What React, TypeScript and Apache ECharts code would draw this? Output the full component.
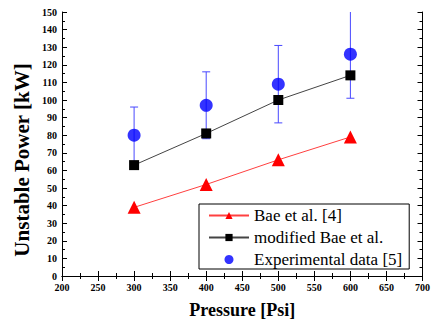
import React, { useEffect, useRef } from "react";
import * as echarts from "echarts";

const pressures = [300, 400, 500, 600];
const baeValues = [39, 52, 66, 79];
const modifiedValues = [63, 81, 100, 114];
const experimentalValues = [80, 97, 109, 126];
const experimentalErrors = [16, 19, 22, 25];

export default function App() {
  const ref = useRef<HTMLDivElement>(null);
  useEffect(() => {
    const chart = echarts.init(ref.current!, null, { renderer: "svg" });
    const serif = "'Liberation Serif', 'Times New Roman', serif";
    const tickLabel = { fontFamily: serif, fontWeight: "bold" as const, fontSize: 10, color: "#000" };
    const errData = pressures.map((p, i) => [p, experimentalValues[i] - experimentalErrors[i], experimentalValues[i] + experimentalErrors[i]]);
    const legendText = { fontFamily: serif, fontSize: 17, color: "#000" };
    chart.setOption({
      animation: false,
      backgroundColor: "#fff",
      textStyle: { fontFamily: serif },
      grid: { left: 62, right: 7, top: 12, bottom: 44, containLabel: false },
      xAxis: [
        {
          type: "value", min: 200, max: 700, interval: 50, position: "bottom",
          name: "Pressure [Psi]", nameLocation: "middle", nameGap: 25,
          nameTextStyle: { fontFamily: serif, fontWeight: "bold", fontSize: 18, color: "#000" },
          axisLine: { lineStyle: { color: "#000", width: 1 } },
          axisTick: { inside: true, length: 5, lineStyle: { color: "#000" } },
          minorTick: { show: true, splitNumber: 2, length: 3, lineStyle: { color: "#000" } },
          axisLabel: { ...tickLabel, margin: 6 },
          splitLine: { show: false },
        },
        {
          type: "value", min: 200, max: 700, interval: 50, position: "top",
          axisLine: { show: true, lineStyle: { color: "#000", width: 1 } },
          axisTick: { inside: true, length: 5, lineStyle: { color: "#000" } },
          minorTick: { show: true, splitNumber: 2, length: 3, lineStyle: { color: "#000" } },
          axisLabel: { show: false }, splitLine: { show: false },
        },
      ],
      yAxis: [
        {
          type: "value", min: 0, max: 150, interval: 10, position: "left",
          axisLine: { show: true, lineStyle: { color: "#000", width: 1 } },
          axisTick: { inside: true, length: 5, lineStyle: { color: "#000" } },
          minorTick: { show: true, splitNumber: 2, length: 3, lineStyle: { color: "#000" } },
          axisLabel: { ...tickLabel, margin: 5 },
          splitLine: { show: false },
        },
        {
          type: "value", min: 0, max: 150, interval: 10, position: "right",
          axisLine: { show: true, lineStyle: { color: "#000", width: 1 } },
          axisTick: { inside: true, length: 5, lineStyle: { color: "#000" } },
          minorTick: { show: true, splitNumber: 2, length: 3, lineStyle: { color: "#000" } },
          axisLabel: { show: false }, splitLine: { show: false },
        },
      ],
      graphic: [
        {
          type: "text",
          x: 22, y: 160, rotation: Math.PI / 2,
          style: {
            text: "Unstable Power [kW]",
            fontFamily: serif, fontWeight: "bold", fontSize: 21, fill: "#000",
            align: "center", verticalAlign: "middle",
          },
        },
      ],
      legend: {
        orient: "vertical",
        left: 199, top: 204,
        padding: [3, 7, 1, 9],
        itemGap: 5,
        itemWidth: 40, itemHeight: 9,
        borderColor: "#000", borderWidth: 1, backgroundColor: "#fff",
        textStyle: legendText,
        data: [
          { name: "Bae et al. [4]", textStyle: legendText },
          { name: "modified Bae et al.", textStyle: legendText },
          { name: "Experimental data [5]", textStyle: legendText },
        ],
      },
      series: [
        {
          name: "Experimental data [5] err", type: "custom",
          xAxisIndex: 0, yAxisIndex: 0, z: 1,
          renderItem: (params: any, api: any) => {
            const x = api.value(0);
            const lo = api.coord([x, api.value(1)]);
            const hi = api.coord([x, api.value(2)]);
            const cap = 4;
            const style = { stroke: "#4848ff", lineWidth: 1 };
            return {
              type: "group",
              children: [
                { type: "line", shape: { x1: lo[0], y1: lo[1], x2: hi[0], y2: hi[1] }, style },
                { type: "line", shape: { x1: lo[0] - cap, y1: lo[1], x2: lo[0] + cap, y2: lo[1] }, style },
                { type: "line", shape: { x1: hi[0] - cap, y1: hi[1], x2: hi[0] + cap, y2: hi[1] }, style },
              ],
            };
          },
          encode: { x: 0, y: [1, 2] },
          data: errData,
          clip: true,
        },
        {
          name: "Bae et al. [4]", type: "line",
          data: pressures.map((p, i) => [p, baeValues[i]]),
          symbol: "triangle", symbolSize: 13,
          lineStyle: { color: "#ff4040", width: 1 },
          itemStyle: { color: "#ff0000" },
          z: 3,
        },
        {
          name: "modified Bae et al.", type: "line",
          data: pressures.map((p, i) => [p, modifiedValues[i]]),
          symbol: "rect", symbolSize: 10,
          lineStyle: { color: "#444", width: 1 },
          itemStyle: { color: "#000" },
          z: 3,
        },
        {
          name: "Experimental data [5]", type: "scatter",
          data: pressures.map((p, i) => [p, experimentalValues[i]]),
          symbol: "circle", symbolSize: 13,
          itemStyle: { color: "#0000ff" },
          z: 4,
        },
      ],
    });
    return () => chart.dispose();
  }, []);
  return <div ref={ref} style={{ width: 433, height: 324, position: "absolute", left: 0, top: 0 }} />;
}
